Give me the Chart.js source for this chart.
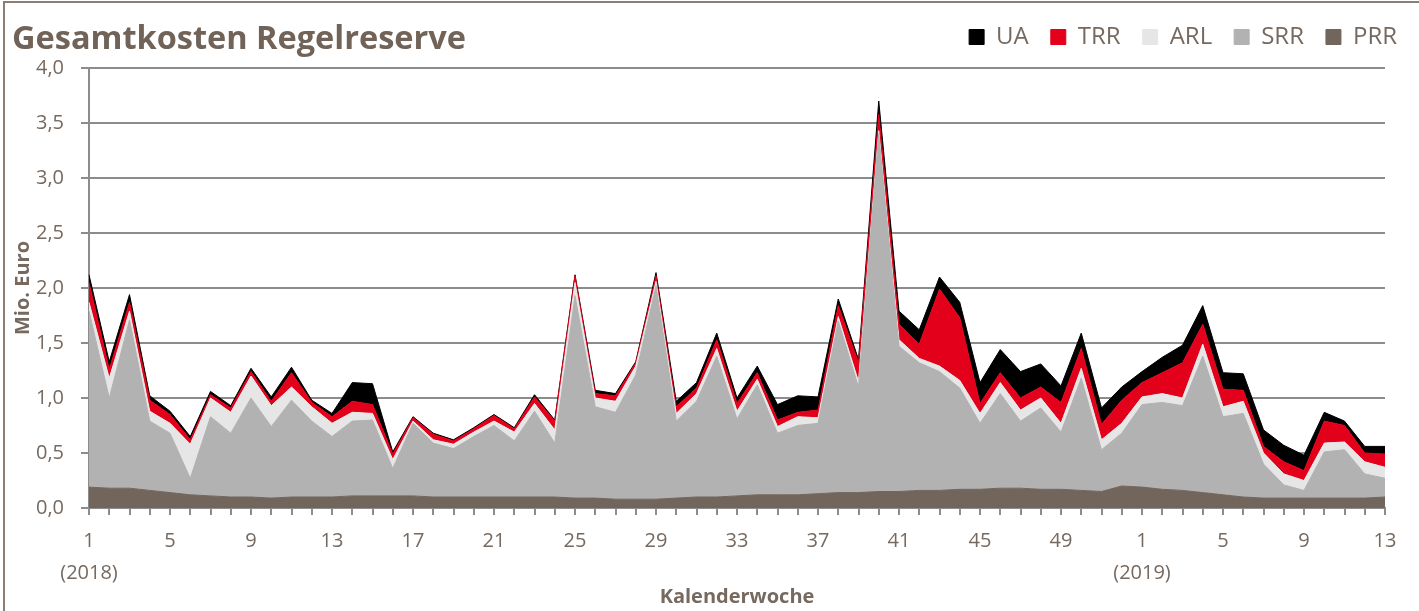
<!DOCTYPE html>
<html>
<head>
<meta charset="utf-8">
<script src="https://cdn.jsdelivr.net/npm/chart.js@4/dist/chart.umd.min.js"></script>
<style>
  html, body { margin: 0; padding: 0; background: #fff; }
  #wrap { position: relative; width: 1419px; height: 611px; overflow: hidden; }
  #frame { position: absolute; left: 3px; top: 1px; width: 1430px; height: 620px; border-left: 2px solid #8a7e75; border-top: 2px solid #8a7e75; box-sizing: border-box; pointer-events: none; }
  #title { position: absolute; left: 12px; top: 21px; font-family: "Open Sans", sans-serif; font-weight: 700; font-size: 32.5px; line-height: 32px; color: #716357; white-space: nowrap; }
  canvas { position: absolute; left: 0; top: 0; }
</style>
</head>
<body>
<div id="wrap">
  <canvas id="c" width="1419" height="611"></canvas>
  <div id="frame"></div>
  <div id="title">Gesamtkosten Regelreserve</div>
</div>
<script>
// Calendar weeks: 2018 weeks 1-52, then 2019 weeks 1-13
const weeks = [1,2,3,4,5,6,7,8,9,10,11,12,13,14,15,16,17,18,19,20,21,22,23,24,25,26,27,28,29,30,31,32,33,34,35,36,37,38,39,40,41,42,43,44,45,46,47,48,49,50,51,52,
               1,2,3,4,5,6,7,8,9,10,11,12,13];
const yearNotes = ['(2018)', '(2019)'];
const yearStartIdx = [0, 52];

// Mio. Euro per week
const prr = [0.19,0.18,0.18,0.16,0.14,0.12,0.11,0.10,0.10,0.09,0.10,0.10,0.10,0.11,0.11,0.11,0.11,0.10,0.10,0.10,0.10,0.10,0.10,0.10,0.09,0.09,0.08,0.08,0.08,0.09,0.10,0.10,0.11,0.12,0.12,0.12,0.13,0.14,0.14,0.15,0.15,0.16,0.16,0.17,0.17,0.18,0.18,0.17,0.17,0.16,0.15,0.20,
             0.19,0.17,0.16,0.14,0.12,0.10,0.09,0.09,0.09,0.09,0.09,0.09,0.10];
const srr = [1.60,0.82,1.53,0.63,0.54,0.15,0.72,0.58,0.90,0.65,0.88,0.69,0.55,0.68,0.69,0.25,0.66,0.49,0.44,0.55,0.65,0.51,0.78,0.49,1.84,0.83,0.79,1.13,1.94,0.70,0.87,1.28,0.70,1.00,0.56,0.63,0.64,1.56,0.96,3.25,1.32,1.16,1.08,0.92,0.60,0.86,0.61,0.74,0.52,1.02,0.38,0.48,
             0.75,0.79,0.77,1.24,0.71,0.76,0.31,0.12,0.07,0.42,0.44,0.22,0.17];
const arl = [0.08,0.18,0.08,0.09,0.09,0.31,0.17,0.19,0.20,0.19,0.12,0.13,0.12,0.08,0.06,0.08,0.02,0.03,0.04,0.04,0.04,0.08,0.07,0.12,0.12,0.08,0.10,0.08,0.04,0.07,0.07,0.07,0.07,0.05,0.06,0.08,0.05,0.04,0.05,0.03,0.06,0.04,0.05,0.07,0.09,0.10,0.10,0.09,0.08,0.09,0.09,0.09,
             0.07,0.08,0.07,0.11,0.09,0.11,0.10,0.10,0.09,0.08,0.07,0.11,0.10];
const trr = [0.18,0.08,0.08,0.10,0.08,0.04,0.03,0.04,0.04,0.04,0.13,0.04,0.06,0.10,0.08,0.05,0.03,0.05,0.03,0.03,0.05,0.03,0.06,0.08,0.06,0.04,0.05,0.03,0.05,0.06,0.05,0.08,0.07,0.06,0.06,0.04,0.07,0.10,0.17,0.15,0.14,0.13,0.70,0.57,0.09,0.09,0.11,0.10,0.19,0.18,0.14,0.21,
             0.13,0.19,0.32,0.18,0.16,0.10,0.06,0.11,0.09,0.20,0.15,0.08,0.12];
const ua  = [0.07,0.07,0.07,0.04,0.03,0.03,0.03,0.02,0.03,0.04,0.05,0.02,0.03,0.17,0.19,0.02,0.01,0.01,0.01,0.01,0.01,0.01,0.02,0.01,0.01,0.03,0.02,0.01,0.03,0.05,0.05,0.06,0.05,0.06,0.14,0.15,0.12,0.06,0.03,0.12,0.12,0.13,0.11,0.14,0.19,0.21,0.24,0.21,0.15,0.14,0.15,0.12,
             0.10,0.14,0.16,0.17,0.15,0.15,0.15,0.15,0.14,0.08,0.04,0.06,0.07];

const seriesNames = ['PRR', 'SRR', 'ARL', 'TRR', 'UA'];
const seriesColors = ['#72665c', '#b2b2b2', '#e6e6e6', '#e2001a', '#000000'];
const yTickValues = [0, 0.5, 1.0, 1.5, 2.0, 2.5, 3.0, 3.5, 4.0];

const txt = '#76695f';
const gridC = '#8c8c8c';
const FONT = '"Open Sans", sans-serif';

const seriesData = [prr, srr, arl, trr, ua];
const datasets = seriesData.map((d, i) => ({
  label: seriesNames[i],
  data: d,
  backgroundColor: seriesColors[i],
  borderColor: seriesColors[i],
  borderWidth: 1,
  pointRadius: 0,
  tension: 0,
  fill: i === 0 ? 'origin' : '-1'
}));

// fixed legend band height so the plot area starts where the reference's does
const legendHeight = {
  id: 'legendHeight',
  beforeInit(chart) {
    const orig = chart.legend.fit;
    chart.legend.fit = function () {
      orig.call(this);
      this.height = 65;
    };
  }
};

new Chart(document.getElementById('c'), {
  type: 'line',
  data: { labels: weeks.map(String), datasets },
  plugins: [legendHeight],
  options: {
    responsive: false,
    animation: false,
    events: [],
    layout: { padding: { left: 11, right: 0, top: 3, bottom: 0 } },
    plugins: {
      legend: {
        position: 'top',
        align: 'end',
        reverse: true,
        labels: {
          boxWidth: 15, boxHeight: 15, padding: 22,
          color: txt,
          font: { family: FONT, size: 24 }
        }
      },
      tooltip: { enabled: false }
    },
    scales: {
      x: {
        offset: false,
        afterFit: (s) => { s.height = 103; s.paddingRight = 34; s.paddingLeft = 0; },
        grid: { drawOnChartArea: false, drawTicks: true, tickLength: 7, color: gridC, lineWidth: 2 },
        border: { color: gridC, width: 2 },
        ticks: {
          autoSkip: false, maxRotation: 0, minRotation: 0,
          color: txt, padding: 10,
          font: { family: FONT, size: 20, lineHeight: 1.6 },
          callback: function (v, i) {
            if (i % 4 !== 0) return '';
            const k = yearStartIdx.indexOf(i);
            return k >= 0 ? [String(weeks[i]), yearNotes[k]] : String(weeks[i]);
          }
        },
        title: { display: true, text: 'Kalenderwoche', color: txt, padding: { top: 0, bottom: 2 }, font: { family: FONT, size: 20, weight: 'bold' } }
      },
      y: {
        stacked: true,
        min: 0, max: 4,
        afterFit: (s) => { s.width = 78; },
        afterBuildTicks: (s) => { s.ticks = yTickValues.map(v => ({ value: v })); },
        grid: { color: gridC, lineWidth: 2, tickLength: 8 },
        border: { color: gridC, width: 2 },
        ticks: {
          color: txt, padding: 17,
          font: { family: FONT, size: 20 },
          callback: (v) => Number(v).toFixed(1).replace('.', ',')
        },
        title: { display: true, text: 'Mio. Euro', color: txt, padding: { top: 0, bottom: 0 }, font: { family: FONT, size: 20, weight: 'bold' } }
      }
    }
  }
});
</script>
</body>
</html>
